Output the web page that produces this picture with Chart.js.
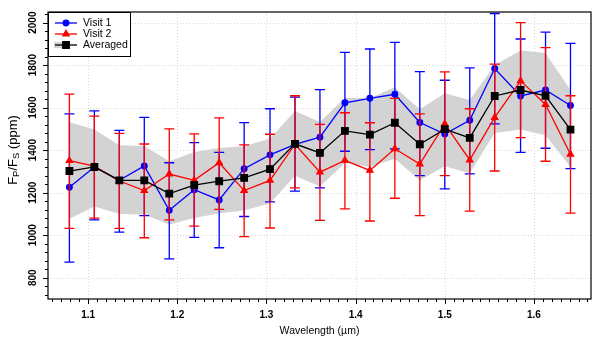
<!DOCTYPE html>
<html>
<head>
<meta charset="utf-8">
<script src="https://cdn.jsdelivr.net/npm/chart.js@4/dist/chart.umd.min.js"></script>
<style>
  html, body { margin: 0; padding: 0; background: #fff; }
  #wrap { width: 600px; height: 341px; }
</style>
</head>
<body>
<div id="wrap"><canvas id="c"></canvas></div>
<script>
// wavelength bins (um)
const wavelength = [1.079, 1.107, 1.135, 1.163, 1.191, 1.219, 1.247, 1.275, 1.304, 1.332, 1.360,
  1.388, 1.416, 1.444, 1.472, 1.500, 1.528, 1.556, 1.585, 1.613, 1.641]

// visit 1
const visit1 = [1226, 1321, 1258, 1326, 1117, 1214, 1166, 1313, 1378, 1427, 1461,
  1623, 1644, 1663, 1530, 1476, 1541, 1784, 1655, 1683, 1610]
const visit1Hi = [1571, 1585, 1493, 1554, 1341, 1436, 1390, 1530, 1595, 1650, 1685,
  1860, 1876, 1907, 1770, 1729, 1787, 2043, 1923, 1955, 1902]
const visit1Lo = [873, 1072, 1015, 1092, 889, 990, 941, 1088, 1157, 1207, 1223,
  1395, 1403, 1406, 1280, 1218, 1289, 1524, 1390, 1409, 1313]

// visit 2
const visit2 = [1351, 1325, 1255, 1210, 1288, 1258, 1341, 1210, 1258, 1428, 1297,
  1352, 1305, 1407, 1335, 1524, 1354, 1554, 1726, 1615, 1381]
const visit2Hi = [1664, 1560, 1479, 1429, 1500, 1477, 1552, 1425, 1475, 1656, 1521,
  1576, 1529, 1644, 1571, 1768, 1595, 1805, 2000, 1882, 1656]
const visit2Lo = [1032, 1080, 1032, 988, 1072, 1043, 1122, 993, 1034, 1223, 1070,
  1124, 1067, 1174, 1092, 1280, 1113, 1302, 1459, 1348, 1104]

// averaged + its shaded band
const averaged = [1302, 1321, 1258, 1258, 1196, 1236, 1254, 1270, 1311, 1430, 1387,
  1491, 1473, 1529, 1428, 1499, 1458, 1655, 1683, 1656, 1497]
const bandHi = [1531, 1497, 1423, 1420, 1348, 1391, 1410, 1418, 1455, 1584, 1533,
  1647, 1644, 1696, 1593, 1668, 1636, 1801, 1869, 1857, 1683]
const bandLo = [1077, 1135, 1100, 1097, 1050, 1081, 1103, 1116, 1150, 1280, 1229,
  1340, 1321, 1360, 1258, 1324, 1292, 1481, 1497, 1470, 1321]

const xTicks = [1.1, 1.2, 1.3, 1.4, 1.5, 1.6]
const yTicks = [800, 1000, 1200, 1400, 1600, 1800, 2000]

const FONT = '"Liberation Sans", Arial, sans-serif'
const BAND = '#d3d3d3'

const pts = (ys) => ys.map((y, i) => ({ x: wavelength[i], y: y }))

// grid, error bars, frame, ticks, y title and the legend
const decor = {
  id: 'decor',
  beforeDatasetsDraw (chart) {
    const { ctx, chartArea: a, scales: { x, y } } = chart
    ctx.save()
    ctx.strokeStyle = '#d8d8d8'
    ctx.lineWidth = 1
    ctx.setLineDash([1, 2])
    xTicks.forEach((v) => {
      const px = Math.round(x.getPixelForValue(v)) + 0.5
      ctx.beginPath(); ctx.moveTo(px, a.top); ctx.lineTo(px, a.bottom); ctx.stroke()
    })
    yTicks.forEach((v) => {
      const py = Math.round(y.getPixelForValue(v)) + 0.5
      ctx.beginPath(); ctx.moveTo(a.left, py); ctx.lineTo(a.right, py); ctx.stroke()
    })
    ctx.restore()
  },
  beforeDatasetDraw (chart, args) {
    const ds = chart.data.datasets[args.index]
    if (!ds.errLo) return
    const { ctx, scales: { x, y } } = chart
    ctx.save()
    ctx.strokeStyle = ds.borderColor
    ctx.lineWidth = 1.3
    ds.data.forEach((p, i) => {
      const px = x.getPixelForValue(p.x)
      const lo = y.getPixelForValue(ds.errLo[i])
      const hi = y.getPixelForValue(ds.errHi[i])
      ctx.beginPath()
      ctx.moveTo(px, lo); ctx.lineTo(px, hi)
      ctx.moveTo(px - 5, lo); ctx.lineTo(px + 5, lo)
      ctx.moveTo(px - 5, hi); ctx.lineTo(px + 5, hi)
      ctx.stroke()
    })
    ctx.restore()
  },
  afterDraw (chart) {
    const { ctx, chartArea: a, scales: { x, y } } = chart
    ctx.save()
    // frame
    ctx.strokeStyle = '#000'
    ctx.lineWidth = 1.2
    ctx.strokeRect(a.left, a.top, a.right - a.left, a.bottom - a.top)
    // ticks: major + minor
    ctx.lineWidth = 1
    ctx.beginPath()
    for (let k = 106; k <= 166; k++) {
      const v = k / 100
      const px = Math.round(x.getPixelForValue(v)) + 0.5
      const len = k % 10 === 0 ? 5 : 3
      ctx.moveTo(px, a.bottom); ctx.lineTo(px, a.bottom + len)
    }
    for (let v = 720; v <= 2040; v += 40) {
      const py = Math.round(y.getPixelForValue(v)) + 0.5
      const len = v % 200 === 0 ? 5 : 3
      ctx.moveTo(a.left, py); ctx.lineTo(a.left - len, py)
    }
    ctx.stroke()

    // y title with subscripts
    const parts = [['F', 13, 0], ['P', 9.5, 3], ['/F', 13, 0], ['S', 9.5, 3], [' (ppm)', 13, 0]]
    let w = 0
    parts.forEach((p) => { ctx.font = p[1] + 'px ' + FONT; w += ctx.measureText(p[0]).width })
    ctx.translate(13, 150)
    ctx.rotate(-Math.PI / 2)
    ctx.fillStyle = '#000'
    ctx.textBaseline = 'middle'
    ctx.textAlign = 'left'
    let cx = -w / 2
    parts.forEach((p) => {
      ctx.font = p[1] + 'px ' + FONT
      ctx.fillText(p[0], cx, p[2])
      cx += ctx.measureText(p[0]).width
    })
    ctx.restore()

    // legend
    ctx.save()
    const lx = a.left, ly = a.top, lw = 82, lh = 44
    ctx.fillStyle = '#fff'
    ctx.fillRect(lx, ly, lw, lh)
    ctx.strokeStyle = '#000'
    ctx.lineWidth = 1
    ctx.strokeRect(lx + 0.5, ly + 0.5, lw, lh)
    const items = [
      { label: 'Visit 1', ds: 0 },
      { label: 'Visit 2', ds: 1 },
      { label: 'Averaged', ds: 2 }
    ]
    items.forEach((it, i) => {
      const ds = chart.data.datasets[it.ds]
      const yy = ly + 11 + i * 11
      if (it.ds === 2) {
        ctx.fillStyle = BAND
        ctx.fillRect(lx + 6, yy - 3, 14, 6)
      }
      ctx.strokeStyle = ds.borderColor
      ctx.lineWidth = 1.3
      ctx.beginPath(); ctx.moveTo(lx + 7, yy); ctx.lineTo(lx + 29, yy); ctx.stroke()
      Chart.helpers.drawPoint(ctx, {
        pointStyle: ds.pointStyle, radius: ds.pointRadius, borderWidth: 1
      }, lx + 18, yy)
      ctx.fillStyle = ds.borderColor
      ctx.fill()
      ctx.fillStyle = '#000'
      ctx.font = '10.5px ' + FONT
      ctx.textBaseline = 'middle'
      ctx.fillText(it.label, lx + 35, yy + 0.5)
    })
    ctx.restore()
  }
}

new Chart(document.getElementById('c'), {
  type: 'line',
  data: {
    datasets: [
      {
        label: 'Visit 1',
        data: pts(visit1),
        errLo: visit1Lo,
        errHi: visit1Hi,
        borderColor: '#0000ff',
        backgroundColor: '#0000ff',
        borderWidth: 1.3,
        pointStyle: 'circle',
        pointRadius: 2.8,
        order: 2
      },
      {
        label: 'Visit 2',
        data: pts(visit2),
        errLo: visit2Lo,
        errHi: visit2Hi,
        borderColor: '#ff0000',
        backgroundColor: '#ff0000',
        borderWidth: 1.3,
        pointStyle: 'triangle',
        pointRadius: 3.6,
        order: 1
      },
      {
        label: 'Averaged',
        data: pts(averaged),
        borderColor: '#000000',
        backgroundColor: '#000000',
        borderWidth: 1.3,
        pointStyle: 'rect',
        pointRadius: 4.6,
        order: 0
      },
      {
        label: 'band hi',
        data: pts(bandHi),
        borderWidth: 0,
        pointRadius: 0,
        backgroundColor: BAND,
        fill: false,
        order: 5
      },
      {
        label: 'band lo',
        data: pts(bandLo),
        borderWidth: 0,
        pointRadius: 0,
        backgroundColor: BAND,
        fill: '-1',
        order: 4
      }
    ]
  },
  options: {
    responsive: true,
    maintainAspectRatio: false,
    animation: false,
    layout: { padding: { top: 12, right: 9, left: 0, bottom: 0 } },
    plugins: { legend: { display: false }, tooltip: { enabled: false } },
    scales: {
      x: {
        type: 'linear',
        min: 1.055,
        max: 1.664,
        afterBuildTicks: (s) => { s.ticks = xTicks.map((v) => ({ value: v })) },
        afterFit: (s) => { s.height = 42 },
        grid: { display: false, drawTicks: false },
        border: { display: false },
        ticks: {
          color: '#000',
          padding: 10,
          font: { family: FONT, size: 10, weight: 'bold' },
          callback: (v) => v.toFixed(1)
        },
        title: {
          display: true,
          text: 'Wavelength (µm)',
          color: '#000',
          font: { family: FONT, size: 10.5 },
          padding: { top: 0, bottom: 4 }
        }
      },
      y: {
        min: 700,
        max: 2050,
        afterBuildTicks: (s) => { s.ticks = yTicks.map((v) => ({ value: v })) },
        afterFit: (s) => { s.width = 48 },
        grid: { display: false, drawTicks: false },
        border: { display: false },
        ticks: {
          color: '#000',
          padding: 4,
          minRotation: 90,
          maxRotation: 90,
          crossAlign: 'center',
          font: { family: FONT, size: 10, weight: 'bold' },
          callback: (v) => String(v)
        }
      }
    }
  },
  plugins: [decor]
})
</script>
</body>
</html>
